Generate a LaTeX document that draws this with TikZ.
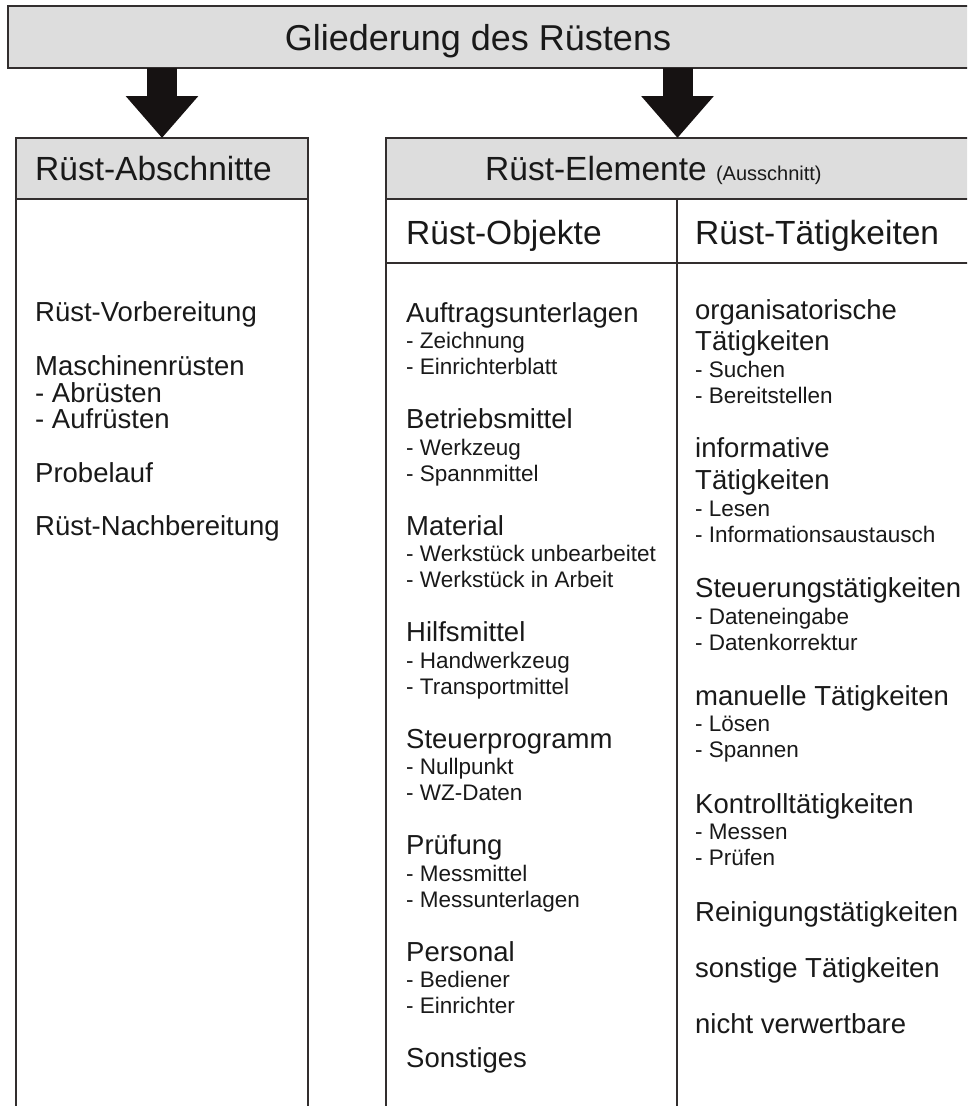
\documentclass[tikz,border=0pt]{standalone}
\usepackage{fontspec}
\setmainfont{Liberation Sans}
\usetikzlibrary{arrows.meta}
\definecolor{boxgray}{RGB}{221,221,221}
\definecolor{linec}{RGB}{50,46,46}
\definecolor{arrowc}{RGB}{22,18,18}
\definecolor{txt}{RGB}{25,25,25}
\begin{document}
\begin{tikzpicture}[x=1pt,y=-1pt,
  frame/.style={draw=linec, line width=2.2pt},
  hdr/.style={frame, fill=boxgray, inner sep=0pt, outer sep=0pt, anchor=north west},
  bigarrow/.style={draw=arrowc, line width=30pt, -{Triangle[length=42pt,width=70pt]}},
  big/.style={anchor=base west, inner sep=0pt, text=txt, font=\fontsize{27.5}{30}\selectfont},
  small/.style={anchor=base west, inner sep=0pt, text=txt, font=\fontsize{22.5}{26}\selectfont},
  title/.style={anchor=base west, inner sep=0pt, text=txt, font=\fontsize{33.5}{38}\selectfont},
]
\useasboundingbox (0,0) rectangle (967,1106);
\clip (0,0) rectangle (967,1106);
% boxes
\node[hdr, minimum width=961pt, minimum height=62pt] (banner) at (8,6) {};
\node[hdr, minimum width=292pt, minimum height=61pt] (abschn) at (16,138) {};
\node[hdr, minimum width=583pt, minimum height=61pt] (elem) at (386,138) {};
\draw[frame] (abschn.south west) -- ++(0,920);
\draw[frame] (abschn.south east) -- ++(0,920);
\draw[frame] (elem.south west) -- ++(0,920);
\coordinate (divtop) at (677,199);
\coordinate (rowL) at (386,263);
\coordinate (rowR) at (969,263);
\draw[frame] (divtop) -- ++(0,920);
\draw[frame] (rowL) -- (rowR);
% arrows
\draw[bigarrow] (banner.south -| abschn.north) -- (abschn.north);
\draw[bigarrow] (banner.south -| elem.north) -- (elem.north);
% header texts
\node[title, anchor=base, font=\fontsize{36}{40}\selectfont] (tbanner) at (478,50) {Gliederung des Rüstens};
\node[title] (tabschn) at (35,180) {Rüst-Abschnitte};
\node[title] (telem) at (485,180) {Rüst-Elemente {\fontsize{20}{22}\selectfont (Ausschnitt)}};
\node[title] (tobj) at (406,244) {Rüst-Objekte};
\node[title] (ttaet) at (695,244) {Rüst-Tätigkeiten};
% left column
\node[big] (a1) at (35,321) {Rüst-Vorbereitung};
\node[big] (a2) at (35,375) {Maschinenrüsten};
\node[big] (a2a) at (35,402) {- Abrüsten};
\node[big] (a2b) at (35,428) {- Aufrüsten};
\node[big] (a3) at (35,482) {Probelauf};
\node[big] (a4) at (35,535) {Rüst-Nachbereitung};
% Objekte
\node[big] (o1) at (406,322) {Auftragsunterlagen};
\node[small] (o1a) at (406,348.5) {- Zeichnung};
\node[small] (o1b) at (406,374.5) {- Einrichterblatt};
\node[big] (o2) at (406,428.5) {Betriebsmittel};
\node[small] (o2a) at (406,455) {- Werkzeug};
\node[small] (o2b) at (406,481) {- Spannmittel};
\node[big] (o3) at (406,535) {Material};
\node[small] (o3a) at (406,561.5) {- Werkstück unbearbeitet};
\node[small] (o3b) at (406,587.5) {- Werkstück in Arbeit};
\node[big] (o4) at (406,641.5) {Hilfsmittel};
\node[small] (o4a) at (406,668) {- Handwerkzeug};
\node[small] (o4b) at (406,694) {- Transportmittel};
\node[big] (o5) at (406,748) {Steuerprogramm};
\node[small] (o5a) at (406,774.5) {- Nullpunkt};
\node[small] (o5b) at (406,800.5) {- WZ-Daten};
\node[big] (o6) at (406,854.5) {Prüfung};
\node[small] (o6a) at (406,881) {- Messmittel};
\node[small] (o6b) at (406,907) {- Messunterlagen};
\node[big] (o7) at (406,961) {Personal};
\node[small] (o7a) at (406,987.5) {- Bediener};
\node[small] (o7b) at (406,1013.5) {- Einrichter};
\node[big] (o8) at (406,1067) {Sonstiges};
% Taetigkeiten
\node[big] (t1) at (695,319) {organisatorische};
\node[big] (t1l) at (695,350) {Tätigkeiten};
\node[small] (t1a) at (695,377) {- Suchen};
\node[small] (t1b) at (695,403) {- Bereitstellen};
\node[big] (t2) at (695,457) {informative};
\node[big] (t2l) at (695,489) {Tätigkeiten};
\node[small] (t2a) at (695,516) {- Lesen};
\node[small] (t2b) at (695,542) {- Informationsaustausch};
\node[big] (t3) at (695,597) {Steuerungstätigkeiten};
\node[small] (t3a) at (695,624) {- Dateneingabe};
\node[small] (t3b) at (695,650) {- Datenkorrektur};
\node[big] (t4) at (695,705) {manuelle Tätigkeiten};
\node[small] (t4a) at (695,731) {- Lösen};
\node[small] (t4b) at (695,757) {- Spannen};
\node[big] (t5) at (695,813) {Kontrolltätigkeiten};
\node[small] (t5a) at (695,839) {- Messen};
\node[small] (t5b) at (695,865) {- Prüfen};
\node[big] (t6) at (695,921) {Reinigungstätigkeiten};
\node[big] (t7) at (695,977) {sonstige Tätigkeiten};
\node[big] (t8) at (695,1033) {nicht verwertbare};
\end{tikzpicture}
\end{document}
